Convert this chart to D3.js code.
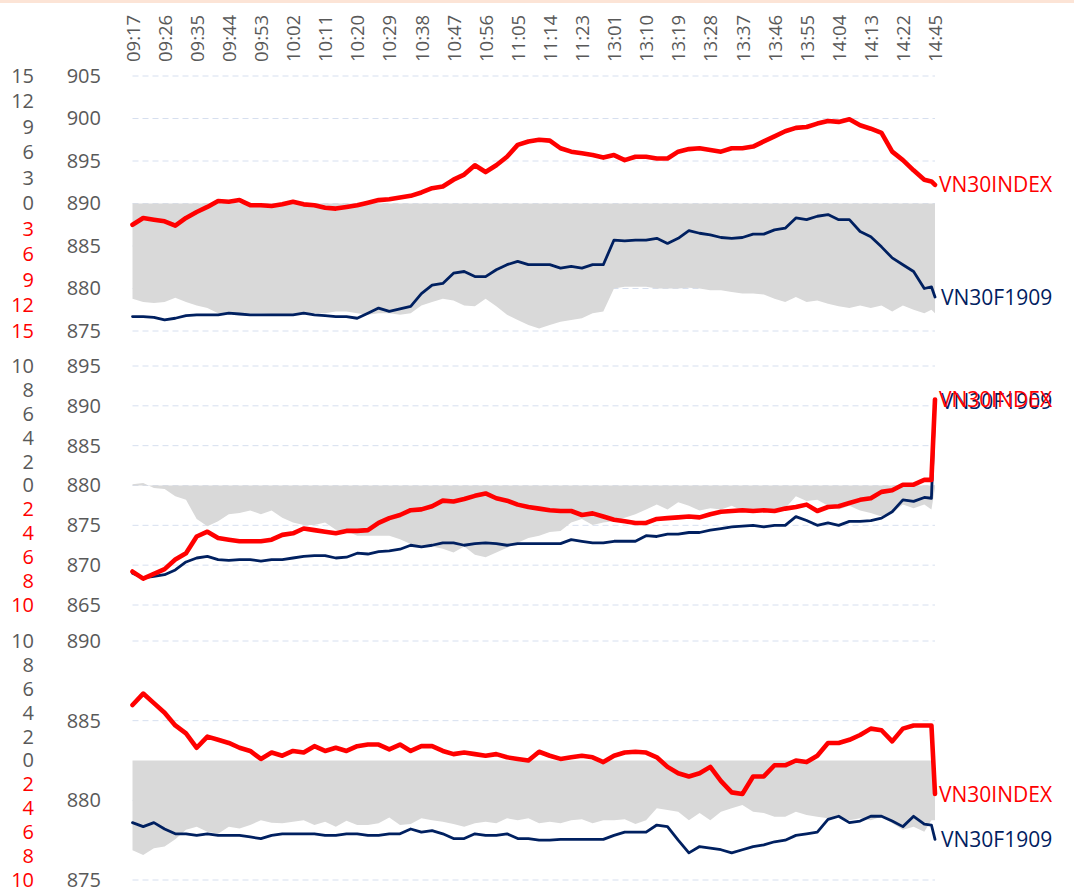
<!DOCTYPE html>
<html><head><meta charset="utf-8">
<script src="https://cdn.jsdelivr.net/npm/d3@7"></script>
<style>
body{margin:0;background:#fff;}
svg{display:block;font-family:"Open Sans",sans-serif;}
</style>
</head><body>
<svg id="chart" width="1074" height="890"></svg>
<script>
// ---------- DATA ----------
const timeLabels = ["09:17","09:26","09:35","09:44","09:53","10:02","10:11","10:20","10:29","10:38","10:47","10:56","11:05","11:14","11:23","13:01","13:10","13:19","13:28","13:37","13:46","13:55","14:04","14:13","14:22","14:45"];
const tickCats = timeLabels.map((t, i) => i * 9);           // category index of each label
const sampleCats = d3.range(0, 223, 3).concat([224, 225]);   // category index of each sample

// Panel 1
const index1 = [887.5,888.3,888.1,887.9,887.4,888.3,889.0,889.6,890.3,890.2,
890.4,889.8,889.8,889.7,889.9,890.2,889.9,889.8,889.5,889.4,
889.6,889.8,890.1,890.4,890.5,890.7,890.9,891.3,891.8,892.0,
892.8,893.4,894.5,893.7,894.5,895.5,896.9,897.3,897.5,897.4,
896.5,896.1,895.9,895.7,895.4,895.7,895.1,895.5,895.5,895.3,
895.3,896.1,896.4,896.5,896.3,896.1,896.5,896.5,896.7,897.3,
897.9,898.5,898.9,899.0,899.4,899.7,899.6,899.9,899.2,898.8,
898.3,896.1,895.1,893.9,892.8,892.6,892.2];
const fut1 = [876.7,876.7,876.6,876.3,876.5,876.8,876.9,876.9,876.9,877.1,
877.0,876.9,876.9,876.9,876.9,876.9,877.1,876.9,876.8,876.7,
876.7,876.5,877.1,877.7,877.3,877.6,877.9,879.4,880.4,880.6,
881.8,882.0,881.4,881.4,882.2,882.8,883.2,882.8,882.8,882.8,
882.4,882.6,882.4,882.8,882.8,885.7,885.6,885.7,885.7,885.9,
885.3,885.9,886.8,886.5,886.3,886.0,885.9,886.0,886.4,886.4,
886.9,887.1,888.3,888.1,888.5,888.7,888.1,888.1,886.7,886.1,
884.9,883.6,882.8,882.0,880.0,880.2,879.0];
const basis1 = [-11.2,-11.6,-11.7,-11.6,-11.1,-11.6,-12.0,-12.3,-12.9,-13.0,
-13.1,-12.9,-12.9,-13.0,-13.1,-13.1,-13.1,-12.9,-12.9,-12.7,
-12.7,-12.9,-13.1,-12.9,-12.9,-13.1,-12.9,-12.0,-11.6,-11.2,
-11.4,-12.0,-12.1,-11.2,-12.1,-13.1,-13.7,-14.3,-14.7,-14.3,
-13.9,-13.7,-13.5,-12.9,-12.7,-10.0,-9.8,-9.8,-9.8,-10.0,
-10.0,-10.0,-9.9,-10.0,-10.2,-10.2,-10.4,-10.6,-10.6,-10.7,
-11.2,-11.6,-11.0,-11.6,-11.4,-11.8,-12.1,-12.3,-12.0,-12.3,
-12.0,-12.7,-12.0,-12.5,-12.9,-12.5,-12.9];

// Panel 2
const index2 = [869.2,868.3,868.9,869.5,870.7,871.5,873.6,874.2,873.4,873.2,
873.0,873.0,873.0,873.2,873.8,874.0,874.6,874.4,874.2,874.0,
874.3,874.3,874.4,875.3,875.9,876.3,876.9,877.0,877.4,878.1,
878.0,878.3,878.7,879.0,878.4,878.1,877.6,877.3,877.1,876.9,
876.8,876.8,876.3,876.5,876.1,875.7,875.5,875.3,875.3,875.8,
875.9,876.0,876.1,876.0,876.4,876.7,876.8,876.9,876.8,876.9,
876.8,877.1,877.3,877.6,876.8,877.3,877.4,877.8,878.2,878.4,
879.2,879.4,880.1,880.1,880.7,880.7,890.8];
const fut2 = [869.0,868.4,868.6,868.8,869.4,870.4,870.9,871.1,870.7,870.6,
870.7,870.7,870.5,870.7,870.7,870.9,871.1,871.2,871.2,870.9,
871.0,871.5,871.4,871.7,871.8,872.0,872.5,872.3,872.5,872.8,
872.8,872.5,872.7,872.8,872.7,872.5,872.7,872.7,872.7,872.7,
872.7,873.2,873.0,872.8,872.8,873.0,873.0,873.0,873.7,873.6,
873.9,873.9,874.1,874.1,874.4,874.6,874.8,874.9,875.0,874.8,
875.0,875.0,876.1,875.6,875.0,875.3,875.0,875.5,875.5,875.6,
875.9,876.7,878.2,878.0,878.5,878.4,890.6];
const basis2 = [0.1,0.2,-0.2,-0.3,-0.9,-1.2,-2.8,-3.4,-3.0,-2.4,
-2.3,-2.1,-2.4,-2.1,-2.7,-3.1,-3.3,-3.3,-3.1,-3.7,
-3.8,-4.2,-4.2,-4.2,-4.2,-4.5,-4.9,-5.1,-5.1,-5.3,
-5.6,-5.1,-5.8,-6.0,-5.6,-5.2,-4.8,-4.4,-4.2,-3.9,
-3.8,-3.1,-2.8,-3.3,-3.1,-3.0,-2.7,-2.4,-2.0,-1.6,
-2.0,-1.4,-1.7,-2.1,-1.9,-2.0,-1.7,-2.1,-2.0,-1.9,
-2.0,-1.9,-0.9,-1.3,-1.2,-1.7,-2.0,-1.7,-2.1,-2.3,
-2.6,-2.3,-1.6,-1.9,-1.6,-2.0,-0.2];

// Panel 3
const index3 = [885.98,886.7,886.1,885.5,884.7,884.2,883.3,884.0,883.8,883.6,
883.3,883.1,882.6,883.0,882.8,883.1,883.0,883.4,883.1,883.3,
883.1,883.4,883.5,883.5,883.2,883.5,883.1,883.4,883.4,883.1,
882.9,883.0,882.9,882.8,882.9,882.7,882.6,882.5,883.05,882.8,
882.6,882.7,882.8,882.7,882.4,882.8,883.0,883.05,883.0,882.7,
882.1,881.7,881.5,881.7,882.1,881.2,880.5,880.4,881.5,881.5,
882.2,882.2,882.5,882.4,882.8,883.6,883.6,883.8,884.1,884.5,
884.4,883.7,884.5,884.7,884.7,884.7,880.4];
const fut3 = [878.6,878.35,878.6,878.2,877.9,877.9,877.8,877.9,877.8,877.8,
877.8,877.7,877.6,877.8,877.9,877.9,877.9,877.9,877.8,877.8,
877.9,877.9,877.8,877.8,877.9,877.9,878.2,878.0,878.1,877.9,
877.6,877.6,877.9,877.8,877.8,877.9,877.6,877.6,877.5,877.5,
877.55,877.55,877.55,877.55,877.55,877.8,878.0,878.0,878.0,878.45,
878.35,877.5,876.7,877.1,877.0,876.9,876.7,876.9,877.1,877.2,
877.4,877.5,877.8,877.9,878.0,878.8,879.0,878.6,878.7,879.0,
879.0,878.7,878.35,879.0,878.5,878.45,877.55];
const basis3 = [-7.5,-7.9,-7.34,-7.2,-6.6,-5.8,-5.54,-5.96,-6.14,-5.54,
-5.68,-5.4,-5.0,-5.2,-5.26,-5.12,-5.0,-5.4,-5.12,-5.54,
-5.04,-5.4,-5.4,-5.26,-4.76,-5.4,-5.32,-4.84,-5.0,-5.12,
-5.32,-5.54,-5.26,-5.12,-5.26,-4.84,-5.0,-4.84,-5.26,-5.12,
-5.26,-5.0,-4.92,-5.26,-5.0,-5.0,-4.92,-5.32,-5.0,-4.0,
-4.14,-4.28,-5.0,-4.4,-5.0,-4.28,-4.0,-3.72,-4.28,-4.4,
-4.7,-4.7,-4.28,-4.56,-4.7,-4.84,-4.7,-5.0,-4.84,-5.0,
-4.7,-5.26,-5.8,-5.54,-5.96,-5.0,-5.0];

const seriesNames = ["VN30INDEX", "VN30F1909"];

// ---------- LAYOUT ----------
const panels = [
  {index: index1, fut: fut1, basis: basis1, price: [875, 905], priceStep: 5, basisMax: 15, basisStep: 3, top: 76, bottom: 331},
  {index: index2, fut: fut2, basis: basis2, price: [865, 895], priceStep: 5, basisMax: 10, basisStep: 2, top: 366, bottom: 605},
  {index: index3, fut: fut3, basis: basis3, price: [875, 890], priceStep: 5, basisMax: 10, basisStep: 2, top: 641, bottom: 880}
];

const RED = "#FF0000", NAVY = "#002060", GRAY = "#D9D9D9", TXT = "#595959";
const svg = d3.select("#chart");

svg.append("rect").attr("x", 0).attr("y", 0).attr("width", 1074).attr("height", 3).attr("fill", "#FCE4D6");

const x = d3.scaleLinear().domain([0, 225]).range([132.5, 935]);

// Top time axis
const xAxis = svg.append("g").attr("transform", "translate(0,62)")
  .call(d3.axisTop(x).tickValues(tickCats).tickFormat((d, i) => timeLabels[i]).tickSize(0).tickPadding(0));
xAxis.select(".domain").remove();
xAxis.selectAll("text")
  .attr("transform", "rotate(-90)")
  .attr("x", 0).attr("y", 0).attr("dy", "0.36em")
  .attr("text-anchor", "start")
  .attr("fill", TXT)
  .style("font-size", "18.5px")
  .style("font-family", "'Open Sans', sans-serif");

panels.forEach(p => {
  const yP = d3.scaleLinear().domain(p.price).range([p.bottom, p.top]);
  const yB = d3.scaleLinear().domain([-p.basisMax, p.basisMax]).range([p.bottom, p.top]);
  const priceTicks = d3.range(p.price[0], p.price[1] + 0.01, p.priceStep);
  const basisTicks = d3.range(-p.basisMax, p.basisMax + 0.01, p.basisStep);
  const g = svg.append("g");

  // gridlines
  g.selectAll("line.grid").data(priceTicks).join("line")
    .attr("x1", x(0)).attr("x2", x(225))
    .attr("y1", d => yP(d)).attr("y2", d => yP(d))
    .attr("stroke", "#D6DFEF").attr("stroke-width", 1).attr("stroke-dasharray", "6,4");

  // basis area
  const pts = sampleCats.map((c, i) => ({c, b: p.basis[i], idx: p.index[i], fut: p.fut[i]}));
  g.append("path").datum(pts)
    .attr("fill", GRAY)
    .attr("d", d3.area().x(d => x(d.c)).y0(yB(0)).y1(d => yB(d.b)));

  // lines
  g.append("path").datum(pts)
    .attr("fill", "none").attr("stroke", NAVY).attr("stroke-width", 2.8)
    .attr("stroke-linejoin", "round").attr("stroke-linecap", "round")
    .attr("d", d3.line().x(d => x(d.c)).y(d => yP(d.fut)));
  g.append("path").datum(pts)
    .attr("fill", "none").attr("stroke", RED).attr("stroke-width", 4.6)
    .attr("stroke-linejoin", "round").attr("stroke-linecap", "round")
    .attr("d", d3.line().x(d => x(d.c)).y(d => yP(d.idx)));

  // end labels
  const last = pts[pts.length - 1];
  g.append("text").attr("x", 941).attr("y", yP(last.fut)).attr("dy", "0.36em")
    .attr("fill", NAVY).style("font-size", "21px").text(seriesNames[1]);
  g.append("text").attr("x", 939).attr("y", yP(last.idx)).attr("dy", "0.36em")
    .attr("fill", RED).style("font-size", "21px").text(seriesNames[0]);

  // price axis
  const ap = svg.append("g").attr("transform", "translate(101,0)")
    .call(d3.axisLeft(yP).tickValues(priceTicks).tickFormat(d3.format("d")).tickSize(0).tickPadding(0));
  ap.select(".domain").remove();
  ap.selectAll("text").attr("fill", TXT).style("font-size", "20px").style("font-family", "'Open Sans', sans-serif");

  // basis axis
  const ab = svg.append("g").attr("transform", "translate(34,0)")
    .call(d3.axisLeft(yB).tickValues(basisTicks).tickFormat(d => Math.abs(d)).tickSize(0).tickPadding(0));
  ab.select(".domain").remove();
  ab.selectAll("text").attr("fill", d => d < 0 ? RED : TXT).style("font-size", "20px").style("font-family", "'Open Sans', sans-serif");
});
</script>
</body></html>
